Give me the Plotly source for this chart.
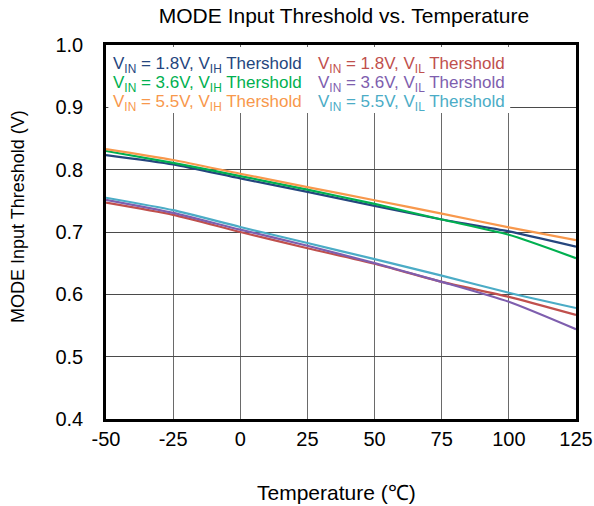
import plotly.graph_objects as go

temps = [-50, -25, 0, 25, 50, 75, 100, 125]

vih_18 = [0.8235, 0.8085, 0.786, 0.7645, 0.742, 0.720, 0.701, 0.6765]
vih_36 = [0.830, 0.811, 0.7897, 0.768, 0.745, 0.720, 0.6955, 0.658]
vih_55 = [0.833, 0.8155, 0.7935, 0.772, 0.751, 0.7295, 0.7075, 0.687]
vil_18 = [0.747, 0.7274, 0.700, 0.674, 0.649, 0.620, 0.596, 0.567]
vil_36 = [0.7516, 0.7306, 0.7037, 0.678, 0.650, 0.620, 0.588, 0.544]
vil_55 = [0.755, 0.735, 0.708, 0.6823, 0.6565, 0.630, 0.6026, 0.578]

series = [
    ("V<sub>IN</sub> = 1.8V, V<sub>IH</sub> Thershold", vih_18, "#25467E"),
    ("V<sub>IN</sub> = 3.6V, V<sub>IH</sub> Thershold", vih_36, "#00B050"),
    ("V<sub>IN</sub> = 5.5V, V<sub>IH</sub> Thershold", vih_55, "#F8984C"),
    ("V<sub>IN</sub> = 1.8V, V<sub>IL</sub> Thershold", vil_18, "#C0504D"),
    ("V<sub>IN</sub> = 3.6V, V<sub>IL</sub> Thershold", vil_36, "#7E5EAE"),
    ("V<sub>IN</sub> = 5.5V, V<sub>IL</sub> Thershold", vil_55, "#4BACC6"),
]

fig = go.Figure()
for name, vals, col in series:
    fig.add_trace(go.Scatter(x=temps, y=vals, mode="lines", name=name,
                             line=dict(color=col, width=2.2, shape="spline", smoothing=0.6),
                             showlegend=False))

font = "Liberation Sans, Arial, sans-serif"

# legend box background
fig.add_shape(type="rect", xref="paper", yref="paper",
              x0=0.005, x1=0.86, y0=(419 - 113) / 374, y1=(419 - 47) / 374,
              fillcolor="white", line=dict(width=0), layer="above")

anns = []
rows_y = [65, 84, 103]
for i, (name, vals, col) in enumerate(series):
    col_x = 111 if i < 3 else 316
    y = rows_y[i % 3]
    anns.append(dict(text=name, xref="paper", yref="paper",
                     x=(col_x - 106) / 470, y=(419 - y) / 374,
                     xanchor="left", yanchor="middle", showarrow=False,
                     font=dict(family=font, size=17, color=col)))

# axis titles
anns.append(dict(text="Temperature (℃)", xref="paper", yref="paper",
                 x=(336 - 106) / 470, y=(419 - 492) / 374,
                 xanchor="center", yanchor="middle", showarrow=False,
                 font=dict(family=font, size=21, color="black")))
anns.append(dict(text="MODE Input Threshold (V)", xref="paper", yref="paper",
                 x=(18 - 106) / 470, y=(419 - 217) / 374, textangle=-90,
                 xanchor="center", yanchor="middle", showarrow=False,
                 font=dict(family=font, size=18, color="black")))

fig.update_layout(
    width=594, height=506,
    margin=dict(l=106, r=18, t=45, b=87, autoexpand=False),
    paper_bgcolor="white", plot_bgcolor="white",
    title=dict(text="MODE Input Threshold vs. Temperature", x=344 / 594, xanchor="center",
               y=1 - 16 / 506, yanchor="middle",
               font=dict(family=font, size=21, color="black")),
    font=dict(family=font, color="black"),
    annotations=anns,
    xaxis=dict(range=[-50, 125], tickvals=temps, ticktext=[str(t) for t in temps],
               showgrid=True, gridcolor="#6a6a6a", gridwidth=1,
               showline=True, linecolor="black", linewidth=2.5, mirror=True,
               zeroline=False, ticks="", tickfont=dict(size=20), automargin=False),
    yaxis=dict(range=[0.4, 1.0], tickvals=[0.4, 0.5, 0.6, 0.7, 0.8, 0.9, 1.0],
               ticktext=["0.4", "0.5", "0.6", "0.7", "0.8", "0.9", "1.0"],
               showgrid=True, gridcolor="#4a4a4a", gridwidth=1,
               showline=True, linecolor="black", linewidth=2.5, mirror=True,
               zeroline=False, ticks="", tickfont=dict(size=20), ticklabelstandoff=16,
               automargin=False),
)

fig.write_html("out.html")
